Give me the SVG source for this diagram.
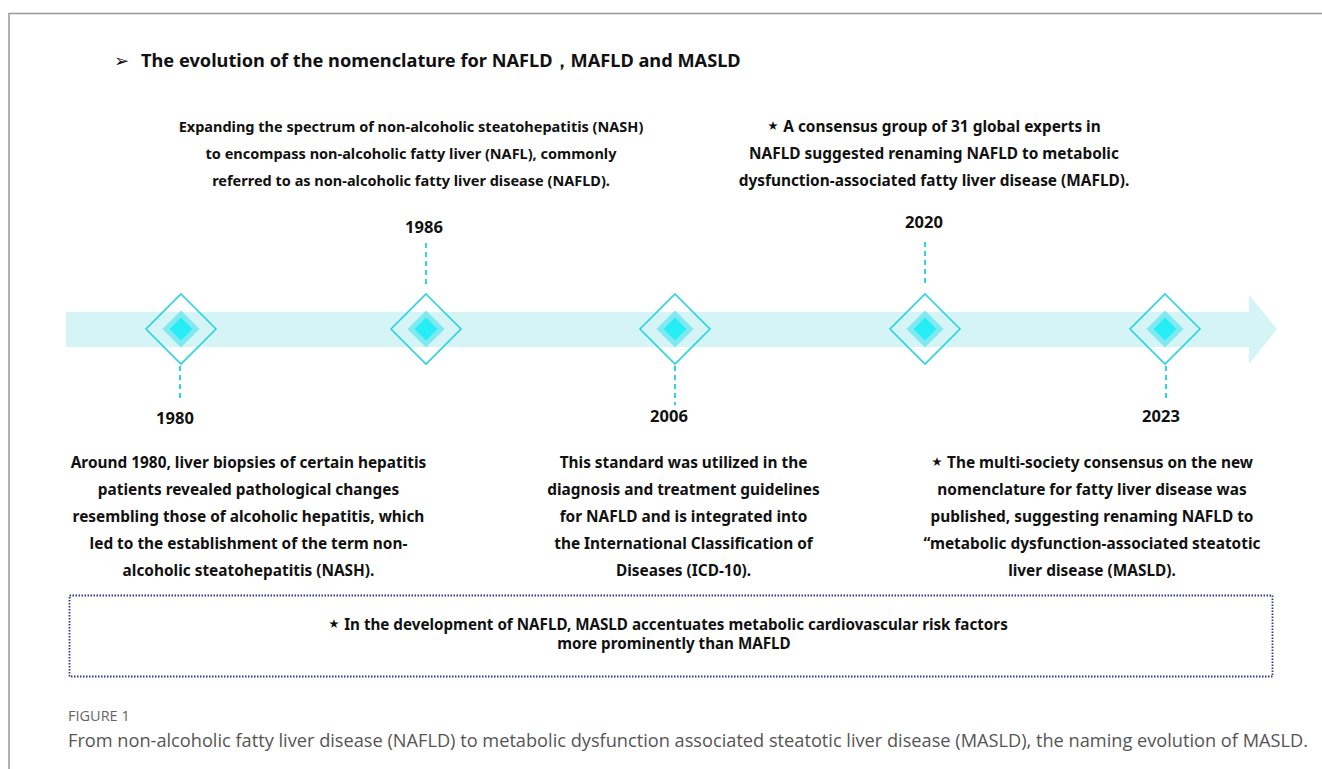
<svg xmlns="http://www.w3.org/2000/svg" width="1322" height="769" viewBox="0 0 1322 769">
<defs>
<style>
.t{font-family:"Noto Sans","Open Sans",sans-serif;font-weight:bold;font-size:15.4px;fill:#111;text-anchor:middle}
.s{font-size:14.5px}
.b{font-size:15.2px}
.st{font-size:19px}
.yr{font-family:"Noto Sans","Open Sans",sans-serif;font-weight:bold;font-size:16.5px;fill:#111;text-anchor:middle}
.dash{stroke:#2fd6e2;stroke-width:2;stroke-dasharray:5 4;fill:none}
.od{fill:none;stroke:#27d3e0;stroke-width:1.6}
.md{fill:#7fe9f1}
.id{fill:#27eef5}
</style>
<g id="d">
<path class="od" d="M0,-35 L35,0 L0,35 L-35,0 Z"/>
<path class="md" d="M0,-18.5 L18.5,0 L0,18.5 L-18.5,0 Z"/>
<path class="id" d="M0,-11.5 L11.5,0 L0,11.5 L-11.5,0 Z"/>
</g>
</defs>
<rect width="1322" height="769" fill="#fff"/>
<path d="M9,769 L9,13.5 L1322,13.5" fill="none" stroke="#999" stroke-width="1.5"/>
<g id="title">
<text x="114" y="67" style="font-family:'DejaVu Sans',sans-serif;font-size:18px;fill:#111">➢</text>
<text x="141" y="67" style="font-family:'Noto Sans',sans-serif;font-weight:bold;font-size:18.2px;fill:#111">The evolution of the nomenclature for NAFLD，MAFLD and MASLD</text>
</g>
<g id="timeline">
<path d="M66,312 L1249,312 L1249,295 L1277,329 L1249,364 L1249,347 L66,347 Z" fill="#d5f4f6"/>
</g>
<g id="connectors">
<line class="dash" x1="180" y1="366" x2="180" y2="400"/>
<line class="dash" x1="426" y1="243" x2="426" y2="287"/>
<line class="dash" x1="675" y1="366" x2="675" y2="405"/>
<line class="dash" x1="925" y1="242" x2="925" y2="287"/>
<line class="dash" x1="1166" y1="366" x2="1166" y2="402"/>
</g>
<g id="n1980">
<use href="#d" x="181" y="329"/>
<text class="yr" x="175" y="424">1980</text>
<text class="t" x="248.5" y="468">Around 1980, liver biopsies of certain hepatitis</text>
<text class="t" x="248.5" y="495">patients revealed pathological changes</text>
<text class="t" x="248.5" y="522">resembling those of alcoholic hepatitis, which</text>
<text class="t" x="248.5" y="549">led to the establishment of the term non-</text>
<text class="t" x="248.5" y="576">alcoholic steatohepatitis (NASH).</text>
</g>
<g id="n1986">
<use href="#d" x="426" y="329"/>
<text class="yr" x="424" y="233">1986</text>
<text class="t s" x="411" y="132">Expanding the spectrum of non-alcoholic steatohepatitis (NASH)</text>
<text class="t s" x="411" y="159">to encompass non-alcoholic fatty liver (NAFL), commonly</text>
<text class="t s" x="411" y="186">referred to as non-alcoholic fatty liver disease (NAFLD).</text>
</g>
<g id="n2006">
<use href="#d" x="675" y="329"/>
<text class="yr" x="669" y="422">2006</text>
<text class="t" x="683.5" y="468">This standard was utilized in the</text>
<text class="t" x="683.5" y="495">diagnosis and treatment guidelines</text>
<text class="t" x="683.5" y="522">for NAFLD and is integrated into</text>
<text class="t" x="683.5" y="549">the International Classification of</text>
<text class="t" x="683.5" y="576">Diseases (ICD-10).</text>
</g>
<g id="n2020">
<use href="#d" x="925" y="329"/>
<text class="yr" x="924" y="228">2020</text>
<text class="t" x="934" y="132"><tspan class="st">⋆</tspan> A consensus group of 31 global experts in</text>
<text class="t" x="934" y="159">NAFLD suggested renaming NAFLD to metabolic</text>
<text class="t" x="934" y="186">dysfunction-associated fatty liver disease (MAFLD).</text>
</g>
<g id="n2023">
<use href="#d" x="1165" y="329"/>
<text class="yr" x="1161" y="422">2023</text>
<text class="t" x="1092" y="468"><tspan class="st">⋆</tspan> The multi-society consensus on the new</text>
<text class="t" x="1092" y="495">nomenclature for fatty liver disease was</text>
<text class="t" x="1092" y="522">published, suggesting renaming NAFLD to</text>
<text class="t" x="1092" y="549">“metabolic dysfunction-associated steatotic</text>
<text class="t" x="1092" y="576">liver disease (MASLD).</text>
</g>
<g id="note">
<rect x="69.5" y="595.5" width="1203" height="81" fill="none" stroke="#2b3a8a" stroke-width="1.8" stroke-dasharray="1.5 1.5"/>
<text class="t b" x="668" y="630"><tspan class="st">⋆</tspan>  In the development of NAFLD, MASLD accentuates metabolic cardiovascular risk factors</text>
<text class="t b" x="674" y="649">more prominently than MAFLD</text>
</g>
<g id="caption">
<text x="68" y="721" style="font-family:'Open Sans',sans-serif;font-size:14.5px;fill:#666">FIGURE 1</text>
<text x="68" y="747" style="font-family:'Open Sans',sans-serif;font-size:18.2px;fill:#555">From non-alcoholic fatty liver disease (NAFLD) to metabolic dysfunction associated steatotic liver disease (MASLD), the naming evolution of MASLD.</text>
</g>
</svg>
